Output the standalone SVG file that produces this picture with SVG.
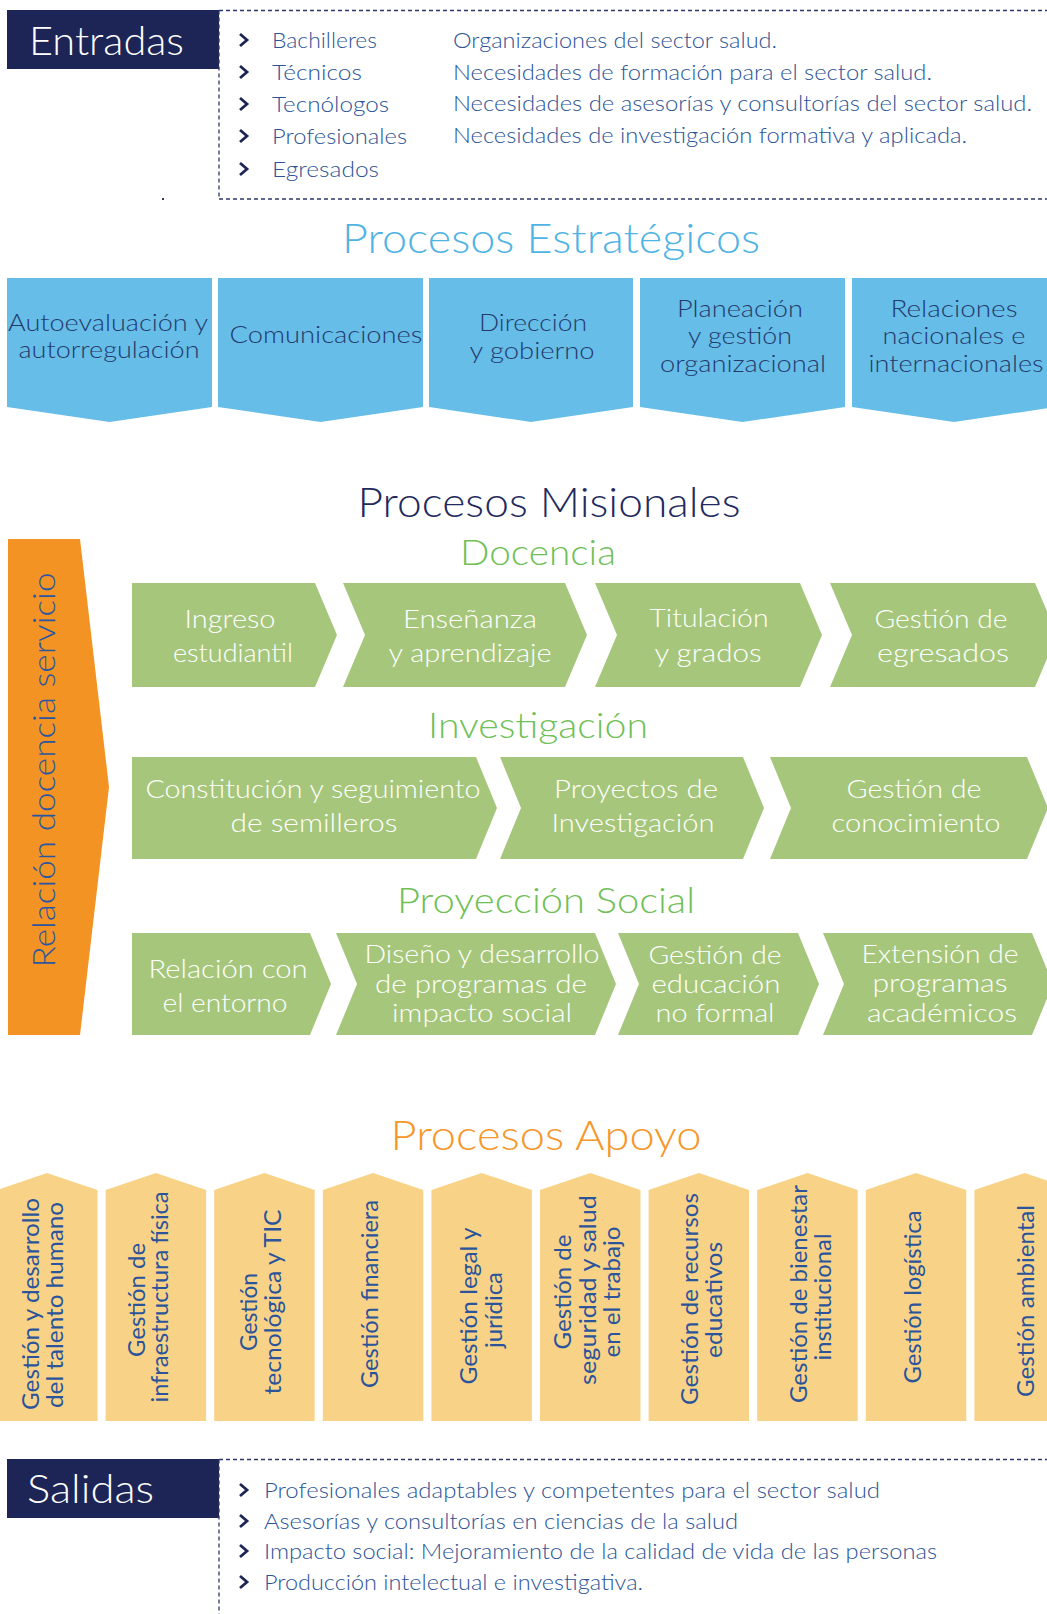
<svg xmlns="http://www.w3.org/2000/svg" width="1047" height="1614" viewBox="0 0 1047 1614">
<style>
  text { font-family: "Lato", "Open Sans", "Liberation Sans", sans-serif; }
  .hdr { font-size: 40px; fill: #ffffff; font-weight: 300; }
  .navy { fill: #1c2556; }
  .dash { fill: none; stroke: #2c3868; stroke-width: 1.3; stroke-dasharray: 4 3; }
  .bullet { fill: none; stroke: #1c2556; stroke-width: 2.8; stroke-linejoin: miter; }
  .list { font-size: 22px; fill: #2c5496; font-weight: 300; }
  .title { font-size: 42px; text-anchor: middle; font-weight: 300; }
  .sub { font-size: 36px; text-anchor: middle; fill: #70bf57; font-weight: 300; }
  .strat { fill: #66bde8; }
  .stxt { font-size: 23px; fill: #233a6c; text-anchor: middle; font-weight: 300; }
  .chev { fill: #a6c77b; }
  .ctxt { font-size: 25px; fill: #ffffff; text-anchor: middle; font-weight: 300; }
  .apo { fill: #f8d387; }
  .atxt { font-size: 24px; fill: #2b549b; text-anchor: middle; }
</style>

<!-- Entradas -->
<g id="entradas">
  <rect class="navy" x="7" y="10" width="212" height="59"/>
  <text class="hdr" x="29" y="55" textLength="155" lengthAdjust="spacingAndGlyphs">Entradas</text>
  <path class="dash" d="M219,10.5 H1047 M219,10.5 V199 M219,199 H1047"/>
  <rect x="162" y="198" width="2" height="2" fill="#2c3868"/>
  <g>
    <path class="bullet" d="M240,34 L247,40 L240,46 M240,66 L247,72 L240,78 M240,98 L247,104 L240,110 M240,130 L247,136 L240,142 M240,163 L247,169 L240,175"/>
    <text class="list" x="272" y="48" textLength="105" lengthAdjust="spacingAndGlyphs">Bachilleres</text>
    <text class="list" x="272" y="80" textLength="90" lengthAdjust="spacingAndGlyphs">Técnicos</text>
    <text class="list" x="272" y="112" textLength="117" lengthAdjust="spacingAndGlyphs">Tecnólogos</text>
    <text class="list" x="272" y="144" textLength="135" lengthAdjust="spacingAndGlyphs">Profesionales</text>
    <text class="list" x="272" y="177" textLength="107" lengthAdjust="spacingAndGlyphs">Egresados</text>
    <text class="list" x="453" y="48" textLength="324" lengthAdjust="spacingAndGlyphs">Organizaciones del sector salud.</text>
    <text class="list" x="453" y="80" textLength="479" lengthAdjust="spacingAndGlyphs">Necesidades de formación para el sector salud.</text>
    <text class="list" x="453" y="111" textLength="579" lengthAdjust="spacingAndGlyphs">Necesidades de asesorías y consultorías del sector salud.</text>
    <text class="list" x="453" y="143" textLength="514" lengthAdjust="spacingAndGlyphs">Necesidades de investigación formativa y aplicada.</text>
  </g>
</g>

<!-- Procesos Estratégicos -->
<g id="estrategicos">
  <text class="title" x="551" y="253" fill="#4fb3e4" textLength="418" lengthAdjust="spacingAndGlyphs">Procesos Estratégicos</text>
  <g id="est-autoevaluacion">
    <path class="strat" d="M7,278 H212 V407 L109.5,422 L7,407 Z"/>
    <text class="stxt" x="108" y="331" textLength="200" lengthAdjust="spacingAndGlyphs">Autoevaluación y</text>
    <text class="stxt" x="109" y="358" textLength="181" lengthAdjust="spacingAndGlyphs">autorregulación</text>
  </g>
  <g id="est-comunicaciones">
    <path class="strat" d="M218,278 H423 V407 L320.5,422 L218,407 Z"/>
    <text class="stxt" x="326" y="343" textLength="193" lengthAdjust="spacingAndGlyphs">Comunicaciones</text>
  </g>
  <g id="est-direccion">
    <path class="strat" d="M429,278 H633 V407 L531,422 L429,407 Z"/>
    <text class="stxt" x="533" y="331" textLength="108" lengthAdjust="spacingAndGlyphs">Dirección</text>
    <text class="stxt" x="532" y="359" textLength="125" lengthAdjust="spacingAndGlyphs">y gobierno</text>
  </g>
  <g id="est-planeacion">
    <path class="strat" d="M640,278 H845 V407 L742.5,422 L640,407 Z"/>
    <text class="stxt" x="740" y="317" textLength="126" lengthAdjust="spacingAndGlyphs">Planeación</text>
    <text class="stxt" x="740" y="344" textLength="104" lengthAdjust="spacingAndGlyphs">y gestión</text>
    <text class="stxt" x="743" y="372" textLength="166" lengthAdjust="spacingAndGlyphs">organizacional</text>
  </g>
  <g id="est-relaciones">
    <path class="strat" d="M852,278 H1056 V407 L954,422 L852,407 Z"/>
    <text class="stxt" x="954" y="317" textLength="127" lengthAdjust="spacingAndGlyphs">Relaciones</text>
    <text class="stxt" x="954" y="344" textLength="143" lengthAdjust="spacingAndGlyphs">nacionales e</text>
    <text class="stxt" x="956" y="372" textLength="175" lengthAdjust="spacingAndGlyphs">internacionales</text>
  </g>
</g>

<!-- Procesos Misionales -->
<g id="misionales">
  <text class="title" x="549" y="517" fill="#1f2a5e" textLength="383" lengthAdjust="spacingAndGlyphs">Procesos Misionales</text>

  <g id="relacion-docencia-servicio">
    <path d="M8,539 H80 L109,787 L80,1035 H8 Z" fill="#f39324"/>
    <text transform="translate(55,770) rotate(-90)" x="0" y="0" font-size="32" font-weight="300" fill="#2a56a0" text-anchor="middle" textLength="395" lengthAdjust="spacingAndGlyphs">Relación docencia servicio</text>
  </g>

  <text class="sub" x="538" y="565" textLength="156" lengthAdjust="spacingAndGlyphs">Docencia</text>
  <g id="doc-ingreso">
    <path class="chev" d="M132,583 H315 L337,635 L315,687 H132 Z"/>
    <text class="ctxt" x="230" y="628" textLength="91" lengthAdjust="spacingAndGlyphs">Ingreso</text>
    <text class="ctxt" x="233" y="662" textLength="120" lengthAdjust="spacingAndGlyphs">estudiantil</text>
  </g>
  <g id="doc-ensenanza">
    <path class="chev" d="M343,583 H565 L587,635 L565,687 H343 L365,635 Z"/>
    <text class="ctxt" x="470" y="628" textLength="134" lengthAdjust="spacingAndGlyphs">Enseñanza</text>
    <text class="ctxt" x="470" y="662" textLength="163" lengthAdjust="spacingAndGlyphs">y aprendizaje</text>
  </g>
  <g id="doc-titulacion">
    <path class="chev" d="M595,583 H800 L822,635 L800,687 H595 L617,635 Z"/>
    <text class="ctxt" x="709" y="627" textLength="119" lengthAdjust="spacingAndGlyphs">Titulación</text>
    <text class="ctxt" x="708" y="662" textLength="107" lengthAdjust="spacingAndGlyphs">y grados</text>
  </g>
  <g id="doc-egresados">
    <path class="chev" d="M830,583 H1035 L1057,635 L1035,687 H830 L852,635 Z"/>
    <text class="ctxt" x="941" y="628" textLength="133" lengthAdjust="spacingAndGlyphs">Gestión de</text>
    <text class="ctxt" x="943" y="662" textLength="132" lengthAdjust="spacingAndGlyphs">egresados</text>
  </g>

  <text class="sub" x="538" y="738" textLength="220" lengthAdjust="spacingAndGlyphs">Investigación</text>
  <g id="inv-semilleros">
    <path class="chev" d="M132,757 H476 L497,808 L476,859 H132 Z"/>
    <text class="ctxt" x="313" y="798" textLength="335" lengthAdjust="spacingAndGlyphs">Constitución y seguimiento</text>
    <text class="ctxt" x="314" y="832" textLength="167" lengthAdjust="spacingAndGlyphs">de semilleros</text>
  </g>
  <g id="inv-proyectos">
    <path class="chev" d="M500,757 H743 L764,808 L743,859 H500 L521,808 Z"/>
    <text class="ctxt" x="636" y="798" textLength="164" lengthAdjust="spacingAndGlyphs">Proyectos de</text>
    <text class="ctxt" x="633" y="832" textLength="163" lengthAdjust="spacingAndGlyphs">Investigación</text>
  </g>
  <g id="inv-conocimiento">
    <path class="chev" d="M770,757 H1027 L1048,808 L1027,859 H770 L791,808 Z"/>
    <text class="ctxt" x="914" y="798" textLength="135" lengthAdjust="spacingAndGlyphs">Gestión de</text>
    <text class="ctxt" x="916" y="832" textLength="169" lengthAdjust="spacingAndGlyphs">conocimiento</text>
  </g>

  <text class="sub" x="546" y="913" textLength="298" lengthAdjust="spacingAndGlyphs">Proyección Social</text>
  <g id="ps-entorno">
    <path class="chev" d="M132,933 H310 L331,984 L310,1035 H132 Z"/>
    <text class="ctxt" x="228" y="978" textLength="159" lengthAdjust="spacingAndGlyphs">Relación con</text>
    <text class="ctxt" x="225" y="1012" textLength="125" lengthAdjust="spacingAndGlyphs">el entorno</text>
  </g>
  <g id="ps-diseno">
    <path class="chev" d="M336,933 H595 L616,984 L595,1035 H336 L357,984 Z"/>
    <text class="ctxt" x="482" y="963" textLength="235" lengthAdjust="spacingAndGlyphs">Diseño y desarrollo</text>
    <text class="ctxt" x="481" y="993" textLength="212" lengthAdjust="spacingAndGlyphs">de programas de</text>
    <text class="ctxt" x="482" y="1022" textLength="180" lengthAdjust="spacingAndGlyphs">impacto social</text>
  </g>
  <g id="ps-educacion">
    <path class="chev" d="M618,933 H798 L819,984 L798,1035 H618 L639,984 Z"/>
    <text class="ctxt" x="715" y="964" textLength="133" lengthAdjust="spacingAndGlyphs">Gestión de</text>
    <text class="ctxt" x="716" y="993" textLength="129" lengthAdjust="spacingAndGlyphs">educación</text>
    <text class="ctxt" x="715" y="1022" textLength="119" lengthAdjust="spacingAndGlyphs">no formal</text>
  </g>
  <g id="ps-extension">
    <path class="chev" d="M823,933 H1032 L1053,984 L1032,1035 H823 L844,984 Z"/>
    <text class="ctxt" x="940" y="963" textLength="157" lengthAdjust="spacingAndGlyphs">Extensión de</text>
    <text class="ctxt" x="940" y="992" textLength="135" lengthAdjust="spacingAndGlyphs">programas</text>
    <text class="ctxt" x="942" y="1022" textLength="150" lengthAdjust="spacingAndGlyphs">académicos</text>
  </g>
</g>

<!-- Procesos Apoyo -->
<g id="apoyo">
  <text class="title" x="546" y="1150" fill="#f5972b" textLength="311" lengthAdjust="spacingAndGlyphs">Procesos Apoyo</text>
  <g id="apo-talento">
    <path class="apo" d="M-3,1190 L47,1173 L97.5,1190 V1421 H-3 Z"/>
    <text class="atxt" transform="rotate(-90)" x="-1304" y="39" textLength="212" lengthAdjust="spacingAndGlyphs">Gestión y desarrollo</text>
    <text class="atxt" transform="rotate(-90)" x="-1305" y="63" textLength="206" lengthAdjust="spacingAndGlyphs">del talento humano</text>
  </g>
  <g id="apo-infraestructura">
    <path class="apo" d="M105.6,1190 L155.9,1173 L206.1,1190 V1421 H105.6 Z"/>
    <text class="atxt" transform="rotate(-90)" x="-1300" y="145" textLength="114" lengthAdjust="spacingAndGlyphs">Gestión de</text>
    <text class="atxt" transform="rotate(-90)" x="-1297" y="168" textLength="211" lengthAdjust="spacingAndGlyphs">infraestructura física</text>
  </g>
  <g id="apo-tecnologica">
    <path class="apo" d="M214.2,1190 L264.5,1173 L314.7,1190 V1421 H214.2 Z"/>
    <text class="atxt" transform="rotate(-90)" x="-1312" y="257" textLength="78" lengthAdjust="spacingAndGlyphs">Gestión</text>
    <text class="atxt" transform="rotate(-90)" x="-1302" y="281" textLength="185" lengthAdjust="spacingAndGlyphs">tecnológica y TIC</text>
  </g>
  <g id="apo-financiera">
    <path class="apo" d="M322.8,1190 L373,1173 L423.3,1190 V1421 H322.8 Z"/>
    <text class="atxt" transform="rotate(-90)" x="-1294" y="378" textLength="188" lengthAdjust="spacingAndGlyphs">Gestión financiera</text>
  </g>
  <g id="apo-legal">
    <path class="apo" d="M431.4,1190 L481.7,1173 L531.9,1190 V1421 H431.4 Z"/>
    <text class="atxt" transform="rotate(-90)" x="-1306" y="477" textLength="157" lengthAdjust="spacingAndGlyphs">Gestión legal y</text>
    <text class="atxt" transform="rotate(-90)" x="-1310" y="502" textLength="76" lengthAdjust="spacingAndGlyphs">jurídica</text>
  </g>
  <g id="apo-seguridad">
    <path class="apo" d="M540,1190 L590.3,1173 L640.5,1190 V1421 H540 Z"/>
    <text class="atxt" transform="rotate(-90)" x="-1292" y="571" textLength="115" lengthAdjust="spacingAndGlyphs">Gestión de</text>
    <text class="atxt" transform="rotate(-90)" x="-1290" y="596" textLength="190" lengthAdjust="spacingAndGlyphs">seguridad y salud</text>
    <text class="atxt" transform="rotate(-90)" x="-1292" y="620" textLength="131" lengthAdjust="spacingAndGlyphs">en el trabajo</text>
  </g>
  <g id="apo-recursos">
    <path class="apo" d="M648.6,1190 L698.9,1173 L749.1,1190 V1421 H648.6 Z"/>
    <text class="atxt" transform="rotate(-90)" x="-1299" y="698" textLength="212" lengthAdjust="spacingAndGlyphs">Gestión de recursos</text>
    <text class="atxt" transform="rotate(-90)" x="-1300" y="722" textLength="116" lengthAdjust="spacingAndGlyphs">educativos</text>
  </g>
  <g id="apo-bienestar">
    <path class="apo" d="M757.2,1190 L807.5,1173 L857.7,1190 V1421 H757.2 Z"/>
    <text class="atxt" transform="rotate(-90)" x="-1294" y="807" textLength="218" lengthAdjust="spacingAndGlyphs">Gestión de bienestar</text>
    <text class="atxt" transform="rotate(-90)" x="-1297" y="831" textLength="127" lengthAdjust="spacingAndGlyphs">institucional</text>
  </g>
  <g id="apo-logistica">
    <path class="apo" d="M865.8,1190 L916,1173 L966.3,1190 V1421 H865.8 Z"/>
    <text class="atxt" transform="rotate(-90)" x="-1297" y="921" textLength="173" lengthAdjust="spacingAndGlyphs">Gestión logística</text>
  </g>
  <g id="apo-ambiental">
    <path class="apo" d="M974.4,1190 L1024.7,1173 L1074.9,1190 V1421 H974.4 Z"/>
    <text class="atxt" transform="rotate(-90)" x="-1301" y="1034" textLength="192" lengthAdjust="spacingAndGlyphs">Gestión ambiental</text>
  </g>
</g>

<!-- Salidas -->
<g id="salidas">
  <rect class="navy" x="7" y="1459" width="212" height="59"/>
  <text class="hdr" x="27" y="1503" textLength="127" lengthAdjust="spacingAndGlyphs">Salidas</text>
  <path class="dash" d="M219,1459.5 H1047 M219,1459.5 V1614"/>
  <path class="bullet" d="M240,1484 L247,1490 L240,1496 M240,1515 L247,1521 L240,1527 M240,1545 L247,1551 L240,1557 M240,1576 L247,1582 L240,1588"/>
  <text class="list" x="264" y="1498" textLength="616" lengthAdjust="spacingAndGlyphs">Profesionales adaptables y competentes para el sector salud</text>
  <text class="list" x="264" y="1529" textLength="474" lengthAdjust="spacingAndGlyphs">Asesorías y consultorías en ciencias de la salud</text>
  <text class="list" x="264" y="1559" textLength="673" lengthAdjust="spacingAndGlyphs">Impacto social: Mejoramiento de la calidad de vida de las personas</text>
  <text class="list" x="264" y="1590" textLength="379" lengthAdjust="spacingAndGlyphs">Producción intelectual e investigativa.</text>
</g>
</svg>
